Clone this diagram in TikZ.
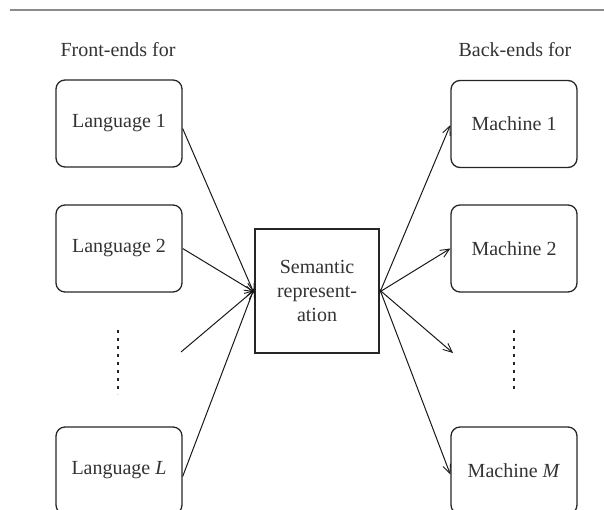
\documentclass[tikz,border=0pt]{standalone}
\usepackage{fontspec}
\setmainfont{Liberation Serif}
\usetikzlibrary{arrows.meta}
\begin{document}
\begin{tikzpicture}[x=1pt,y=-1pt,
  every node/.style={font=\fontsize{20}{24}\selectfont, text=black!80},
  rbox/.style={draw=black!85, line width=1.3pt, rounded corners=9pt, minimum width=126pt, minimum height=87pt, inner sep=0pt},
  sbox/.style={draw=black!85, line width=1.3pt, minimum width=124pt, minimum height=124pt, inner sep=0pt, align=center},
  conn/.style={draw=black!90, line width=1pt, -{Straight Barb[length=9pt,width=8pt,line width=0.9pt]}},
  dotline/.style={draw=black!85, line width=1.4pt, dash pattern=on 2.5pt off 5.5pt}
]
\useasboundingbox (0,0) rectangle (604,510);
\clip (0,0) rectangle (604,510);
\draw[black!45, line width=1.5pt] (10,10) -- (604,10);

\node (fh) at (118,50) {Front-ends for};
\node (bh) at (515,50) {Back-ends for};

\node[rbox] (l1) at (119,123.5) {Language 1};
\node[rbox] (l2) at (119,248.5) {Language 2};
\node[rbox] (lL) at (119,470.5) {Language \textit{L}};

\node[rbox] (m1) at (514,124) {Machine 1};
\node[rbox] (m2) at (514,248.5) {Machine 2};
\node[rbox] (mM) at (514,470.5) {Machine \textit{M}};

\node[sbox] (sem) at (317,291) {Semantic\\represent-\\ation};

\coordinate (lfree) at (181,352);
\coordinate (rfree) at (453,353);

\draw[conn] ([yshift=-5pt]l1.east) -- ([yshift=-3pt]sem.west);
\draw[conn] (l2.east) -- ([yshift=-1pt]sem.west);
\draw[conn] (lfree) -- ([yshift=1pt]sem.west);
\draw[conn] ([yshift=-6pt]lL.east) -- ([yshift=3pt]sem.west);

\draw[conn] ([yshift=-2pt]sem.east) -- ([yshift=-1pt]m1.west);
\draw[conn] ([yshift=-1pt]sem.east) -- (m2.west);
\draw[conn] ([yshift=1pt]sem.east) -- (rfree);
\draw[conn] ([yshift=2pt]sem.east) -- ([yshift=-4pt]mM.west);

\coordinate (dl1) at (118,330);
\coordinate (dl2) at (118,394);
\coordinate (dr1) at (514,330);
\coordinate (dr2) at (514,392);
\draw[dotline] (dl1) -- (dl2);
\draw[dotline] (dr1) -- (dr2);
\end{tikzpicture}
\end{document}
